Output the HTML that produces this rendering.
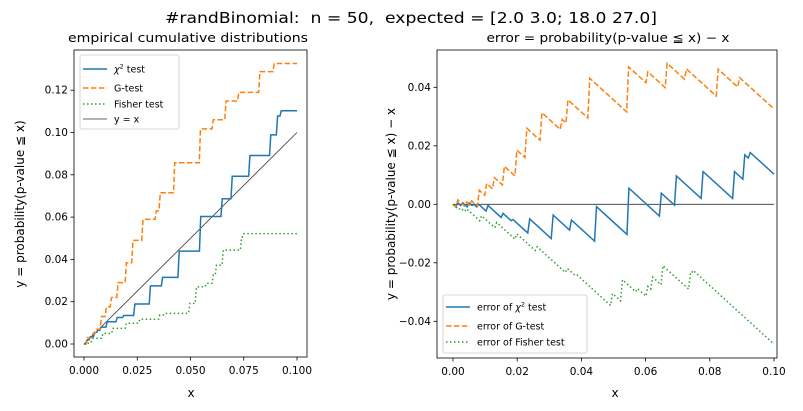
<!DOCTYPE html>
<html><head><meta charset="utf-8"><style>
body{margin:0;background:#fff;}
svg{display:block;font-family:"DejaVu Sans","Liberation Sans",sans-serif;}
</style></head><body>
<svg id="c" width="803" height="411" viewBox="0 0 803 411" xmlns="http://www.w3.org/2000/svg">
<rect width="803" height="411" fill="#fff"/>
<text x="411" y="23" text-anchor="middle" font-size="15" textLength="492" lengthAdjust="spacingAndGlyphs" fill="#000">#randBinomial:&#160; n = 50,&#160; expected = [2.0 3.0; 18.0 27.0]</text>
<text x="188" y="42" text-anchor="middle" font-size="12" textLength="240" lengthAdjust="spacingAndGlyphs" fill="#000">empirical cumulative distributions</text>
<text x="608" y="42" text-anchor="middle" font-size="12" textLength="243" lengthAdjust="spacingAndGlyphs" fill="#000">error = probability(p-value ≦ x) − x</text>
<g id="L"></g><g id="R"></g>
</svg>
<script>
// ---- data (step jumps: x location, cdf level after jump) ----
const chiX = [0.0015,0.003,0.005,0.0065,0.008,0.0109,0.0156,0.0187,0.0239,0.0312,0.0369,0.0447,0.0548,0.0649,0.0696,0.0779,0.0877,0.0909,0.0926];
const chiY = [0.002,0.0035,0.0055,0.0065,0.008,0.0105,0.0125,0.0135,0.0189,0.0275,0.0315,0.0439,0.0603,0.0687,0.0793,0.0891,0.0989,0.1078,0.1103];
const gX = [0.0015,0.0042,0.0058,0.0082,0.0105,0.0129,0.016,0.0199,0.023,0.0277,0.034,0.0358,0.0426,0.0547,0.0607,0.0667,0.0727,0.0826,0.0893];
const gY = [0.003,0.005,0.007,0.013,0.0176,0.022,0.029,0.0384,0.049,0.059,0.063,0.0715,0.0857,0.1017,0.106,0.1149,0.119,0.1288,0.1326];
const fX = [0.0024,0.0042,0.0089,0.0136,0.0199,0.0262,0.0356,0.0387,0.0497,0.0528,0.0575,0.0607,0.0622,0.0654,0.074,0.0748];
const fY = [0.0011,0.0027,0.005,0.0074,0.0098,0.0117,0.0137,0.0145,0.0192,0.027,0.0287,0.0326,0.0373,0.0444,0.0505,0.0522];
const xMax = 0.1;
const leftXTicks = ["0.000","0.025","0.050","0.075","0.100"];
const leftYTicks = ["0.00","0.02","0.04","0.06","0.08","0.10","0.12"];
const rightXTicks = ["0.00","0.02","0.04","0.06","0.08","0.10"];
const rightYTicks = ["−0.04","−0.02","0.00","0.02","0.04"];

const NS="http://www.w3.org/2000/svg";
function mk(p,tag,attrs){const e=document.createElementNS(NS,tag);for(const k in attrs)e.setAttribute(k,attrs[k]);p.appendChild(e);return e;}
const C={b:"#1f77b4",o:"#ff7f0e",g:"#2ca02c"};
const STY={b:{},o:{"stroke-dasharray":"5.5,2.4"},g:{"stroke-dasharray":"1.5,2.5"}};

const Lx=v=>84+v/0.1*213, Ly=v=>344-v/0.02*42.3;
const Rx=v=>453+v/0.1*321, Ry=v=>204.3-v/0.02*58.5;
const SL=0.0006;

function cdfPts(xs,ys){const p=[[0,0]];let prev=0;for(let i=0;i<xs.length;i++){p.push([Math.max(0,xs[i]-SL),prev]);p.push([xs[i],ys[i]]);prev=ys[i];}p.push([xMax,prev]);return p;}
function errPts(xs,ys){return cdfPts(xs,ys).map(([x,y])=>[x,y-x]);}

function axes(g,x0,y0,x1,y1,xt,xf,yt,yf,name){
  const gr=mk(g,"g",{});
  
  
  xt.forEach(t=>{const v=parseFloat(t.replace('−','-'));const x=xf(v);
    const l=mk(gr,"line",{x1:x,x2:x,y1:y1,y2:y1+3.5,stroke:"#000","stroke-width":0.8});
    
    
    const tx=mk(gr,"text",{x:x,y:y1+17,"text-anchor":"middle","font-size":10.5});tx.textContent=t;
    
    });
  yt.forEach(t=>{const v=parseFloat(t.replace('−','-'));const y=yf(v);
    const l=mk(gr,"line",{x1:x0-3.5,x2:x0,y1:y,y2:y,stroke:"#000","stroke-width":0.8});
    
    
    const tx=mk(gr,"text",{x:x0-6,y:y+3.5,"text-anchor":"end","font-size":10.5});tx.textContent=t;
    
    });
}
function line(g,pts,xf,yf,col,name,extra){
  const e=mk(g,"polyline",Object.assign({points:pts.map(p=>xf(p[0]).toFixed(2)+","+yf(p[1]).toFixed(2)).join(" "),fill:"none",stroke:col,"stroke-width":1.5},extra||{}));
  
  
}
function frame(g,x0,y0,x1,y1,name){
  const r=mk(g,"rect",{x:x0,y:y0,width:x1-x0,height:y1-y0,fill:"none",stroke:"#000","stroke-width":0.8});
  
  
}
function legend(g,x,y,w,h,items,name){
  const gr=mk(g,"g",{});
  
  
  mk(gr,"rect",{x:x,y:y,width:w,height:h,rx:2,fill:"#fff","fill-opacity":0.8,stroke:"#ccc","stroke-width":0.8});
  items.forEach(it=>{
    const ln=mk(gr,"line",Object.assign({x1:x+3,x2:x+27,y1:it.y,y2:it.y,stroke:it.c,"stroke-width":it.w||1.5},it.s||{}));
    
    
    const t=mk(gr,"text",{x:x+34,y:it.y+3.5,"font-size":9.5});t.innerHTML=it.t;
    
    
  });
}

const L=document.getElementById("L"), R=document.getElementById("R");
axes(L,74,50,307,357,leftXTicks,Lx,leftYTicks,Ly,"left");
line(L,[[0,0],[0.1,0.1]],Lx,Ly,"#333","identity-line",{"stroke-width":0.8});
line(L,cdfPts(chiX,chiY),Lx,Ly,C.b,"chi2-cdf-line");
line(L,cdfPts(gX,gY),Lx,Ly,C.o,"g-test-cdf-line",STY.o);
line(L,cdfPts(fX,fY),Lx,Ly,C.g,"fisher-cdf-line",STY.g);
frame(L,74,50,307,357,"left");
legend(L,80,55,99,74,[
 {y:69,c:C.b,t:'<tspan font-style="italic">χ</tspan><tspan font-size="6.5" dy="-4">2</tspan><tspan dy="4"> test</tspan>'},
 {y:88,c:C.o,t:"G-test",s:STY.o},
 {y:104,c:C.g,t:"Fisher test",s:STY.g},
 {y:119,c:"#333",t:"y = x",w:0.8}],"left-legend");
const lx=mk(L,"text",{x:191,y:397,"text-anchor":"middle","font-size":12});lx.textContent="x";


const ly=mk(L,"text",{x:0,y:0,"text-anchor":"middle","font-size":12,transform:"translate(24,204) rotate(-90)"});ly.textContent="y = probability(p-value ≦ x)";



axes(R,437,50,777,358,rightXTicks,Rx,rightYTicks,Ry,"right");
line(R,[[0,0],[0.1,0]],Rx,Ry,"#333","zero-line",{"stroke-width":0.8});
line(R,errPts(chiX,chiY),Rx,Ry,C.b,"chi2-error-line");
line(R,errPts(gX,gY),Rx,Ry,C.o,"g-test-error-line",STY.o);
line(R,errPts(fX,fY),Rx,Ry,C.g,"fisher-error-line",STY.g);
frame(R,437,50,777,358,"right");
legend(R,443,295,144,58,[
 {y:307,c:C.b,t:'error of <tspan font-style="italic">χ</tspan><tspan font-size="6.5" dy="-4">2</tspan><tspan dy="4"> test</tspan>'},
 {y:326,c:C.o,t:"error of G-test",s:STY.o},
 {y:342,c:C.g,t:"error of Fisher test",s:STY.g}],"right-legend");
const rx=mk(R,"text",{x:615,y:397,"text-anchor":"middle","font-size":12});rx.textContent="x";


const ry=mk(R,"text",{x:0,y:0,"text-anchor":"middle","font-size":12,transform:"translate(395,204) rotate(-90)"});ry.textContent="y = probability(p-value ≦ x) − x";


</script>
</body></html>
